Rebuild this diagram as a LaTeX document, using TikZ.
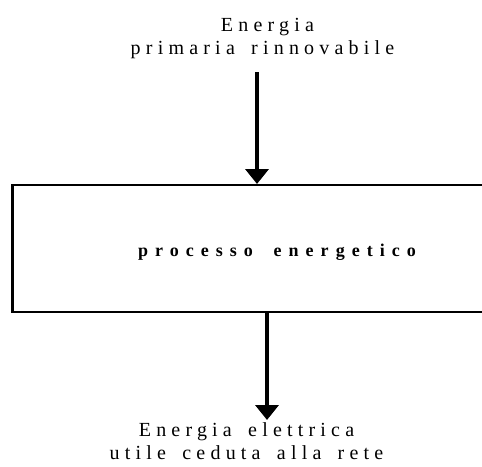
\documentclass[tikz,border=0pt]{standalone}
\usepackage{fontspec}
\setmainfont{Liberation Serif}
\newfontfamily\spaced[LetterSpace=26,WordSpace=1.6]{Liberation Serif}
\newfontfamily\spacedb[LetterSpace=39,WordSpace=1.8]{Liberation Serif}
\usetikzlibrary{arrows.meta}
\tikzset{
  lbl/.style={align=center, inner sep=0pt, font=\spaced\fontsize{20}{22.5}\selectfont},
  arr/.style={line width=3.5pt, -{Triangle[width=23pt,length=15pt]}},
  boxline/.style={line width=1.5pt}
}
\begin{document}
\begin{tikzpicture}[x=1pt,y=-1pt]
\useasboundingbox (0,0) rectangle (482,466);
\clip (0,0) rectangle (482,466);
\node[lbl, anchor=base] (src) at (262.5,54) {\hspace*{10pt}Energia\\primaria rinnovabile};
\node[draw, boxline, minimum width=490pt, minimum height=127pt, anchor=north west, inner sep=0pt] (proc) at (12.5,184) {};
\draw[line width=3pt] (proc.north west) -- (proc.south west);
\node[inner sep=0pt, anchor=base, font=\spacedb\bfseries\fontsize{18}{20}\selectfont] (ptxt) at (277,256) {processo energetico};
\node[lbl, anchor=base] (dst) at (246.5,459) {Energia elettrica\\utile ceduta alla rete};
\coordinate (a1) at (257,72);
\coordinate (b2) at (267,420);
\draw[arr] (a1) -- (a1 |- proc.north);
\draw[arr] (b2 |- proc.south) -- (b2);
\end{tikzpicture}
\end{document}
